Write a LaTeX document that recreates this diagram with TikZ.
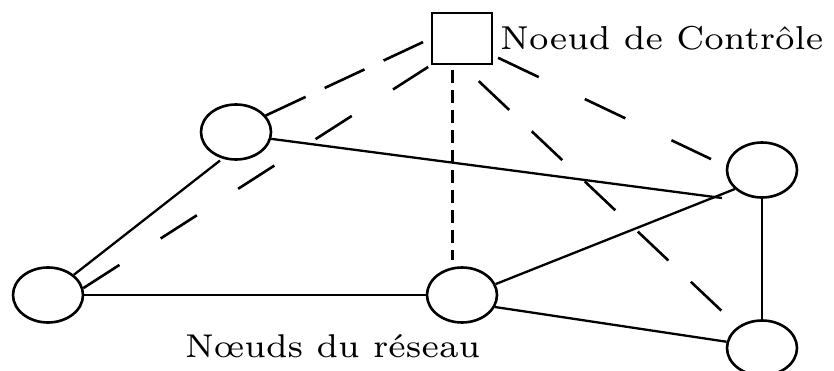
\documentclass[tikz,border=0pt]{standalone}
\usepackage{graphicx}
\usetikzlibrary{shapes.geometric}
\begin{document}
\begin{tikzpicture}[x=1pt,y=-1pt,
  netnode/.style={draw, ellipse, line width=2.6pt, minimum width=70pt, minimum height=55pt, inner sep=0pt},
  ctrlnode/.style={draw, rectangle, line width=2.6pt, minimum width=60pt, minimum height=51pt, inner sep=0pt},
  lbl/.style={inner sep=0pt, anchor=base west},
  link/.style={line width=2.3pt},
  ctlA/.style={line width=2.6pt, dash pattern=on 44pt off 21pt},
  ctlB/.style={line width=2.6pt, dash pattern=on 43pt off 49pt},
  ctlC/.style={line width=2.8pt, dash pattern=on 12.7pt off 7.3pt},
  ctlD/.style={line width=2.6pt, dash pattern=on 45pt off 51pt},
  ctlE/.style={line width=2.6pt, dash pattern=on 42pt off 31pt}]
\useasboundingbox (0,0) rectangle (834,371);

\node[ctrlnode] (sq) at (462,38.5) {};
\node[netnode] (tl) at (236,132) {};
\node[netnode] (l) at (48,295) {};
\node[netnode] (m) at (462,295) {};
\node[netnode] (rt) at (762,170) {};
\node[netnode] (br) at (762,348) {};
\coordinate (rtfoot) at (722,198);

\node[lbl] (ctrllbl) at (500,50) {\resizebox{323pt}{23.3pt}{\fontsize{7}{8}\selectfont Noeud de Contrôle}};
\node[lbl] (netlbl) at (185,357) {\resizebox{295pt}{23pt}{\fontsize{7}{8}\selectfont Nœuds du réseau}};

% solid links
\draw[link] (tl.-11) -- (rtfoot);
\draw[link, shorten <=3pt] (tl.243) -- (l.38);
\draw[link] (l.east) -- (m.west);
\draw[link] (m.18) -- (rt.215);
\draw[link] (m.-20) -- (br.170);
\draw[link] (rt.south) -- (br.north);

% dashed control links
\draw[ctlA, shorten >=8.5pt] (tl.29) -- (sq.west);
\draw[ctlB, shorten >=3pt] (l.11) -- (sq.south west);
\draw[ctlC, shorten <=5pt, shorten >=6pt] ([xshift=-9.5pt]sq.south) -- ([xshift=-9.5pt]m.north);
\draw[ctlD, shorten <=5.3pt, shorten >=16.6pt] ([yshift=-17pt]sq.east) -- (rt.174);
\draw[ctlE, shorten <=23pt, shorten >=22.8pt] (sq.south) -- (br.138);
\end{tikzpicture}
\end{document}
